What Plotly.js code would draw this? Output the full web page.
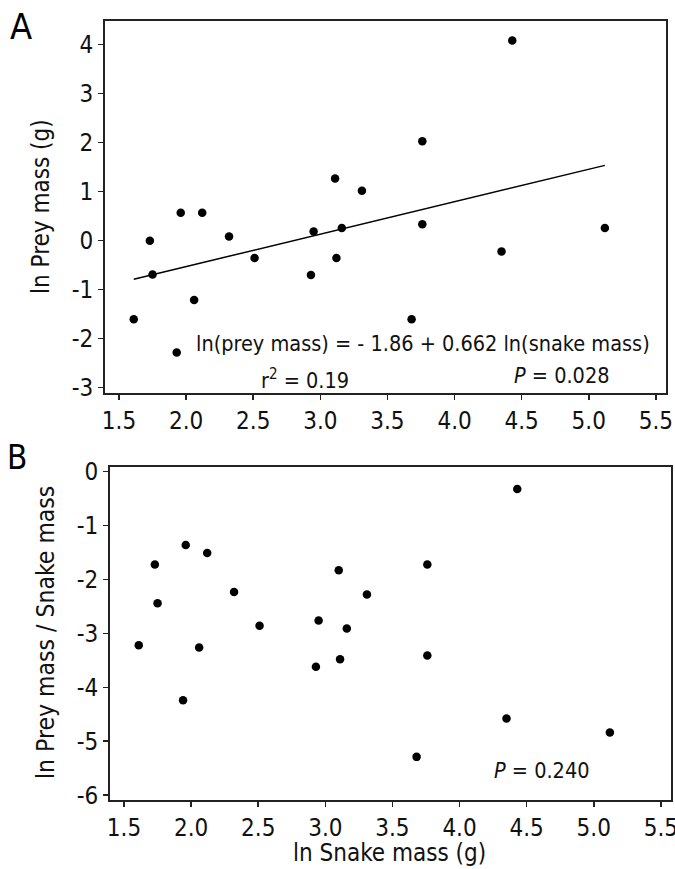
<!DOCTYPE html>
<html>
<head>
<meta charset="utf-8">
<script src="https://cdn.plot.ly/plotly-3.0.1.min.js"></script>
<style>html,body{margin:0;padding:0;background:#fff;}#chart{width:675px;height:869px;}</style>
</head>
<body>
<div id="chart"></div>
<script>
// Panel A: ln snake mass vs ln prey mass
var snakeA = [1.61, 1.73, 1.75, 1.96, 2.12, 2.06, 1.93, 2.32, 2.51, 2.95, 2.93, 3.12, 3.16, 3.11, 3.31, 3.76, 3.76, 3.68, 4.35, 4.43, 5.12];
var preyA  = [-1.61, -0.01, -0.70, 0.56, 0.56, -1.22, -2.29, 0.08, -0.36, 0.18, -0.71, -0.36, 0.25, 1.26, 1.01, 0.33, 2.02, -1.61, -0.23, 4.08, 0.25];
// Panel B: ln snake mass vs ln(prey mass / snake mass)
var snakeB = [1.61, 1.73, 1.75, 1.96, 2.12, 2.06, 1.94, 2.32, 2.51, 2.95, 2.93, 3.11, 3.16, 3.10, 3.31, 3.76, 3.76, 3.68, 4.35, 4.43, 5.12];
var ratioB = [-3.22, -1.72, -2.44, -1.36, -1.51, -3.26, -4.24, -2.23, -2.86, -2.76, -3.62, -3.48, -2.91, -1.83, -2.28, -3.41, -1.72, -5.29, -4.58, -0.32, -4.84];
// Regression from the printed equation
var fitIntercept = -1.86, fitSlope = 0.662;
var fitX = [1.61, 5.12];
var fitY = fitX.map(function (x) { return fitIntercept + fitSlope * x; });
var xTicks = [1.5, 2.0, 2.5, 3.0, 3.5, 4.0, 4.5, 5.0, 5.5];
var xTickText = ['1.5', '2.0', '2.5', '3.0', '3.5', '4.0', '4.5', '5.0', '5.5'];
var yTicksA = [-3, -2, -1, 0, 1, 2, 3, 4];
var yTickTextA = ['-3', '-2', '-1', '0', '1', '2', '3', '4'];
var yTicksB = [-6, -5, -4, -3, -2, -1, 0];
var yTickTextB = ['-6', '-5', '-4', '-3', '-2', '-1', '0'];

var FONT = 'DejaVu Sans Condensed, DejaVu Sans, sans-serif';

var traces = [
  {x: snakeA, y: preyA, mode: 'markers', type: 'scatter', xaxis: 'x', yaxis: 'y',
   marker: {color: '#000', size: 8.5}},
  {x: fitX, y: fitY, mode: 'lines', type: 'scatter', xaxis: 'x', yaxis: 'y',
   line: {color: '#000', width: 1.5}},
  {x: snakeB, y: ratioB, mode: 'markers', type: 'scatter', xaxis: 'x2', yaxis: 'y2',
   marker: {color: '#000', size: 8.5}}
];

function xax(domain, anchor) {
  return {domain: domain, anchor: anchor, range: [1.396, 5.573], tickvals: xTicks, ticktext: xTickText,
    showgrid: false, zeroline: false, showline: true, linecolor: '#222', linewidth: 2, mirror: true,
    ticks: 'outside', ticklen: 5, tickwidth: 1.5, tickcolor: '#222', ticklabeloverflow: 'allow',
    tickfont: {family: FONT, size: 24, color: '#111'}};
}
function yax(domain, anchor, range, vals, text) {
  return {domain: domain, anchor: anchor, range: range, tickvals: vals, ticktext: text,
    showgrid: false, zeroline: false, showline: true, linecolor: '#222', linewidth: 2, mirror: true,
    ticks: 'outside', ticklen: 5, tickwidth: 1.5, tickcolor: '#222', ticklabeloverflow: 'allow',
    tickfont: {family: FONT, size: 24, color: '#111'}};
}

var layout = {
  width: 675, height: 869,
  margin: {l: 0, r: 0, t: 0, b: 0},
  paper_bgcolor: '#fff', plot_bgcolor: '#fff',
  showlegend: false,
  xaxis: xax([0.1556, 0.9862], 'y'),
  yaxis: yax([0.5481, 0.9758], 'x', [-3.11, 4.475], yTicksA, yTickTextA),
  xaxis2: xax([0.163, 0.9936], 'y2'),
  yaxis2: yax([0.0794, 0.4630], 'x2', [-6.09, 0.093], yTicksB, yTickTextB),
  annotations: [
    {text: 'A', xref: 'paper', yref: 'paper', x: 21/675, y: 1 - 26/869, xanchor: 'center', yanchor: 'middle',
     showarrow: false, font: {family: FONT, size: 36, color: '#000'}},
    {text: 'B', xref: 'paper', yref: 'paper', x: 17/675, y: 1 - 457/869, xanchor: 'center', yanchor: 'middle',
     showarrow: false, font: {family: FONT, size: 33, color: '#000'}},
    {text: 'ln Prey mass (g)', xref: 'paper', yref: 'paper', x: 41/675, y: 1 - 207/869, textangle: -90,
     xanchor: 'center', yanchor: 'middle', showarrow: false, font: {family: FONT, size: 24, color: '#111'}},
    {text: 'ln Prey mass / Snake mass', xref: 'paper', yref: 'paper', x: 45/675, y: 1 - 633/869, textangle: -90,
     xanchor: 'center', yanchor: 'middle', showarrow: false, font: {family: FONT, size: 24.5, color: '#111'}},
    {text: 'ln Snake mass (g)', xref: 'paper', yref: 'paper', x: 389/675, y: 1 - 853/869,
     xanchor: 'center', yanchor: 'middle', showarrow: false, font: {family: FONT, size: 24, color: '#111'}},
    {text: 'ln(prey mass) = - 1.86 + 0.662 ln(snake mass)', xref: 'paper', yref: 'paper', x: 652/675, y: 1 - 344/869,
     xanchor: 'right', yanchor: 'middle', showarrow: false, font: {family: FONT, size: 21.5, color: '#111'}},
    {text: 'r<sup>2</sup> = 0.19', xref: 'paper', yref: 'paper', x: 259/675, y: 1 - 379/869,
     xanchor: 'left', yanchor: 'middle', showarrow: false, font: {family: FONT, size: 21.5, color: '#111'}},
    {text: '<i>P</i> = 0.028', xref: 'paper', yref: 'paper', x: 512/675, y: 1 - 375/869,
     xanchor: 'left', yanchor: 'middle', showarrow: false, font: {family: FONT, size: 21.5, color: '#111'}},
    {text: '<i>P</i> = 0.240', xref: 'paper', yref: 'paper', x: 492/675, y: 1 - 770/869,
     xanchor: 'left', yanchor: 'middle', showarrow: false, font: {family: FONT, size: 21.5, color: '#111'}}
  ]
};

Plotly.newPlot('chart', traces, layout, {displayModeBar: false, staticPlot: true});
</script>
</body>
</html>
